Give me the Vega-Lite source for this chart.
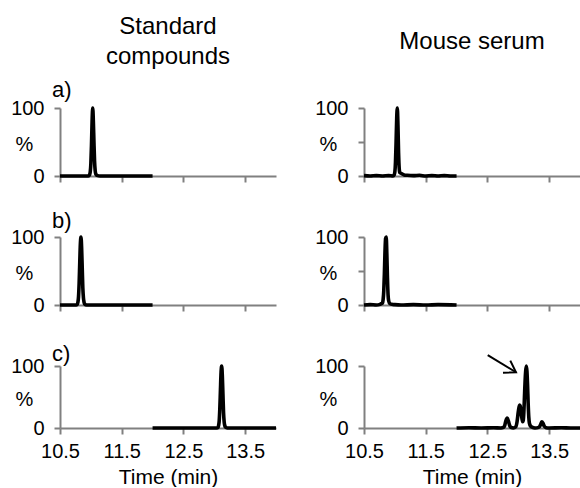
{
  "$schema": "https://vega.github.io/schema/vega-lite/v6.json",
  "padding": {"left": 10, "top": 15, "right": 0, "bottom": 0},
  "background": "white",
  "columns": 2,
  "spacing": {"row": 61, "column": 88},
  "bounds": "flush",
  "align": "each",
  "config": {
    "font": "Liberation Sans",
    "view": {"stroke": null},
    "axis": {"grid": false, "domainColor": "#808080", "domainWidth": 2, "tickColor": "#808080", "tickWidth": 2, "tickSize": 6, "labelFont": "Liberation Sans", "labelFontSize": 20, "labelColor": "#000", "labelFlush": false, "titleFont": "Liberation Sans", "titleFontWeight": "normal", "titleColor": "#000"},
    "axisX": {"labelPadding": 7, "titleFontSize": 21, "titlePadding": 5},
    "axisY": {"labelPadding": 10, "titleFontSize": 20},
    "title": {"font": "Liberation Sans", "fontSize": 24, "fontWeight": "normal", "color": "#000", "lineHeight": 30, "baseline": "bottom"}
  },
  "datasets": {
    "trace": [
      {"row": "a", "col": "std", "t": 10.5, "pct": 0},
      {"row": "a", "col": "std", "t": 10.9, "pct": 0},
      {"row": "a", "col": "std", "t": 10.96, "pct": 0},
      {"row": "a", "col": "std", "t": 10.98, "pct": 2},
      {"row": "a", "col": "std", "t": 10.99, "pct": 6},
      {"row": "a", "col": "std", "t": 11.0, "pct": 18},
      {"row": "a", "col": "std", "t": 11.01, "pct": 45},
      {"row": "a", "col": "std", "t": 11.02, "pct": 80},
      {"row": "a", "col": "std", "t": 11.03, "pct": 100},
      {"row": "a", "col": "std", "t": 11.04, "pct": 82},
      {"row": "a", "col": "std", "t": 11.05, "pct": 50},
      {"row": "a", "col": "std", "t": 11.06, "pct": 22},
      {"row": "a", "col": "std", "t": 11.07, "pct": 8},
      {"row": "a", "col": "std", "t": 11.08, "pct": 3},
      {"row": "a", "col": "std", "t": 11.1, "pct": 1},
      {"row": "a", "col": "std", "t": 11.15, "pct": 0},
      {"row": "a", "col": "std", "t": 12.0, "pct": 0},

      {"row": "a", "col": "serum", "t": 10.5, "pct": 0.5},
      {"row": "a", "col": "serum", "t": 10.6, "pct": 0},
      {"row": "a", "col": "serum", "t": 10.7, "pct": 0.5},
      {"row": "a", "col": "serum", "t": 10.8, "pct": 0},
      {"row": "a", "col": "serum", "t": 10.9, "pct": 0.5},
      {"row": "a", "col": "serum", "t": 10.97, "pct": 0},
      {"row": "a", "col": "serum", "t": 10.99, "pct": 2},
      {"row": "a", "col": "serum", "t": 11.0, "pct": 6},
      {"row": "a", "col": "serum", "t": 11.01, "pct": 20},
      {"row": "a", "col": "serum", "t": 11.02, "pct": 50},
      {"row": "a", "col": "serum", "t": 11.03, "pct": 85},
      {"row": "a", "col": "serum", "t": 11.04, "pct": 100},
      {"row": "a", "col": "serum", "t": 11.05, "pct": 75},
      {"row": "a", "col": "serum", "t": 11.06, "pct": 35},
      {"row": "a", "col": "serum", "t": 11.07, "pct": 12},
      {"row": "a", "col": "serum", "t": 11.08, "pct": 5},
      {"row": "a", "col": "serum", "t": 11.1, "pct": 4},
      {"row": "a", "col": "serum", "t": 11.12, "pct": 3},
      {"row": "a", "col": "serum", "t": 11.15, "pct": 1.5},
      {"row": "a", "col": "serum", "t": 11.2, "pct": 1},
      {"row": "a", "col": "serum", "t": 11.3, "pct": 0.5},
      {"row": "a", "col": "serum", "t": 11.4, "pct": 1},
      {"row": "a", "col": "serum", "t": 11.5, "pct": 0},
      {"row": "a", "col": "serum", "t": 11.6, "pct": 0.5},
      {"row": "a", "col": "serum", "t": 11.7, "pct": 0},
      {"row": "a", "col": "serum", "t": 11.8, "pct": 0.5},
      {"row": "a", "col": "serum", "t": 11.9, "pct": 0},
      {"row": "a", "col": "serum", "t": 12.0, "pct": 0},

      {"row": "b", "col": "std", "t": 10.5, "pct": 0},
      {"row": "b", "col": "std", "t": 10.76, "pct": 0},
      {"row": "b", "col": "std", "t": 10.78, "pct": 1},
      {"row": "b", "col": "std", "t": 10.79, "pct": 4},
      {"row": "b", "col": "std", "t": 10.8, "pct": 12},
      {"row": "b", "col": "std", "t": 10.81, "pct": 32},
      {"row": "b", "col": "std", "t": 10.82, "pct": 62},
      {"row": "b", "col": "std", "t": 10.83, "pct": 90},
      {"row": "b", "col": "std", "t": 10.84, "pct": 100},
      {"row": "b", "col": "std", "t": 10.85, "pct": 85},
      {"row": "b", "col": "std", "t": 10.86, "pct": 55},
      {"row": "b", "col": "std", "t": 10.87, "pct": 25},
      {"row": "b", "col": "std", "t": 10.88, "pct": 10},
      {"row": "b", "col": "std", "t": 10.89, "pct": 4},
      {"row": "b", "col": "std", "t": 10.9, "pct": 1.5},
      {"row": "b", "col": "std", "t": 10.93, "pct": 0},
      {"row": "b", "col": "std", "t": 12.0, "pct": 0},

      {"row": "b", "col": "serum", "t": 10.5, "pct": 0},
      {"row": "b", "col": "serum", "t": 10.6, "pct": 0.5},
      {"row": "b", "col": "serum", "t": 10.7, "pct": 0},
      {"row": "b", "col": "serum", "t": 10.76, "pct": 1},
      {"row": "b", "col": "serum", "t": 10.78, "pct": 2},
      {"row": "b", "col": "serum", "t": 10.8, "pct": 3},
      {"row": "b", "col": "serum", "t": 10.81, "pct": 8},
      {"row": "b", "col": "serum", "t": 10.82, "pct": 20},
      {"row": "b", "col": "serum", "t": 10.83, "pct": 45},
      {"row": "b", "col": "serum", "t": 10.84, "pct": 78},
      {"row": "b", "col": "serum", "t": 10.85, "pct": 98},
      {"row": "b", "col": "serum", "t": 10.86, "pct": 100},
      {"row": "b", "col": "serum", "t": 10.87, "pct": 75},
      {"row": "b", "col": "serum", "t": 10.88, "pct": 40},
      {"row": "b", "col": "serum", "t": 10.89, "pct": 15},
      {"row": "b", "col": "serum", "t": 10.9, "pct": 6},
      {"row": "b", "col": "serum", "t": 10.92, "pct": 2},
      {"row": "b", "col": "serum", "t": 10.95, "pct": 1},
      {"row": "b", "col": "serum", "t": 11.0, "pct": 0.5},
      {"row": "b", "col": "serum", "t": 11.1, "pct": 0},
      {"row": "b", "col": "serum", "t": 11.3, "pct": 0.5},
      {"row": "b", "col": "serum", "t": 11.5, "pct": 0},
      {"row": "b", "col": "serum", "t": 11.7, "pct": 0.5},
      {"row": "b", "col": "serum", "t": 12.0, "pct": 0},

      {"row": "c", "col": "std", "t": 12.0, "pct": 0},
      {"row": "c", "col": "std", "t": 13.04, "pct": 0},
      {"row": "c", "col": "std", "t": 13.06, "pct": 1},
      {"row": "c", "col": "std", "t": 13.07, "pct": 4},
      {"row": "c", "col": "std", "t": 13.08, "pct": 12},
      {"row": "c", "col": "std", "t": 13.09, "pct": 32},
      {"row": "c", "col": "std", "t": 13.1, "pct": 62},
      {"row": "c", "col": "std", "t": 13.11, "pct": 90},
      {"row": "c", "col": "std", "t": 13.12, "pct": 100},
      {"row": "c", "col": "std", "t": 13.13, "pct": 85},
      {"row": "c", "col": "std", "t": 13.14, "pct": 55},
      {"row": "c", "col": "std", "t": 13.15, "pct": 25},
      {"row": "c", "col": "std", "t": 13.16, "pct": 10},
      {"row": "c", "col": "std", "t": 13.17, "pct": 4},
      {"row": "c", "col": "std", "t": 13.18, "pct": 1.5},
      {"row": "c", "col": "std", "t": 13.21, "pct": 0},
      {"row": "c", "col": "std", "t": 14.0, "pct": 0},

      {"row": "c", "col": "serum", "t": 12.0, "pct": 0},
      {"row": "c", "col": "serum", "t": 12.2, "pct": 0.5},
      {"row": "c", "col": "serum", "t": 12.4, "pct": 0},
      {"row": "c", "col": "serum", "t": 12.6, "pct": 0.5},
      {"row": "c", "col": "serum", "t": 12.72, "pct": 0},
      {"row": "c", "col": "serum", "t": 12.76, "pct": 1},
      {"row": "c", "col": "serum", "t": 12.78, "pct": 4},
      {"row": "c", "col": "serum", "t": 12.8, "pct": 12},
      {"row": "c", "col": "serum", "t": 12.82, "pct": 16},
      {"row": "c", "col": "serum", "t": 12.84, "pct": 11},
      {"row": "c", "col": "serum", "t": 12.86, "pct": 4},
      {"row": "c", "col": "serum", "t": 12.88, "pct": 1},
      {"row": "c", "col": "serum", "t": 12.92, "pct": 0},
      {"row": "c", "col": "serum", "t": 12.96, "pct": 2},
      {"row": "c", "col": "serum", "t": 12.98, "pct": 10},
      {"row": "c", "col": "serum", "t": 13.0, "pct": 26},
      {"row": "c", "col": "serum", "t": 13.02, "pct": 37},
      {"row": "c", "col": "serum", "t": 13.03, "pct": 36},
      {"row": "c", "col": "serum", "t": 13.05, "pct": 22},
      {"row": "c", "col": "serum", "t": 13.07, "pct": 10},
      {"row": "c", "col": "serum", "t": 13.08, "pct": 12},
      {"row": "c", "col": "serum", "t": 13.09, "pct": 25},
      {"row": "c", "col": "serum", "t": 13.1, "pct": 50},
      {"row": "c", "col": "serum", "t": 13.11, "pct": 75},
      {"row": "c", "col": "serum", "t": 13.12, "pct": 92},
      {"row": "c", "col": "serum", "t": 13.13, "pct": 100},
      {"row": "c", "col": "serum", "t": 13.14, "pct": 92},
      {"row": "c", "col": "serum", "t": 13.15, "pct": 70},
      {"row": "c", "col": "serum", "t": 13.16, "pct": 40},
      {"row": "c", "col": "serum", "t": 13.17, "pct": 18},
      {"row": "c", "col": "serum", "t": 13.18, "pct": 8},
      {"row": "c", "col": "serum", "t": 13.2, "pct": 3},
      {"row": "c", "col": "serum", "t": 13.23, "pct": 1},
      {"row": "c", "col": "serum", "t": 13.27, "pct": 0},
      {"row": "c", "col": "serum", "t": 13.33, "pct": 1},
      {"row": "c", "col": "serum", "t": 13.36, "pct": 5},
      {"row": "c", "col": "serum", "t": 13.38, "pct": 10},
      {"row": "c", "col": "serum", "t": 13.4, "pct": 8},
      {"row": "c", "col": "serum", "t": 13.42, "pct": 3},
      {"row": "c", "col": "serum", "t": 13.45, "pct": 0.5},
      {"row": "c", "col": "serum", "t": 13.5, "pct": 0},
      {"row": "c", "col": "serum", "t": 13.7, "pct": 0.5},
      {"row": "c", "col": "serum", "t": 13.85, "pct": 0},
      {"row": "c", "col": "serum", "t": 14.0, "pct": 0}
    ],
    "arrow": [
      {"t": 12.505, "pct": 117.7, "t2": 12.963, "pct2": 89.9}
    ]
  },
  "concat": [
    {
      "width": 216, "height": 68,
      "title": {"text": ["Standard", "compounds"], "offset": 10},
      "layer": [
        {
          "data": {"name": "trace"},
          "transform": [{"filter": "datum.row == 'a' && datum.col == 'std'"}],
          "mark": {"type": "line", "color": "#000", "strokeWidth": 3.6, "interpolate": "monotone"},
          "encoding": {
            "x": {"field": "t", "type": "quantitative", "scale": {"domain": [10.5, 14]}, "axis": {"values": [10.5, 11.5, 12.5, 13.5], "labels": false, "title": null}},
            "y": {"field": "pct", "type": "quantitative", "scale": {"domain": [0, 100]}, "axis": {"values": [0, 50, 100], "labelExpr": "datum.value == 50 ? '' : datum.label", "title": "%", "titleAngle": 0, "titleAlign": "center", "titleBaseline": "middle", "titleX": -36, "titleY": 36}}
          }
        },
        {
          "data": {"values": [{"label": "a)"}]},
          "mark": {"type": "text", "align": "left", "baseline": "alphabetic", "dx": -8, "dy": -11, "fontSize": 22, "color": "#000"},
          "encoding": {"x": {"datum": 10.5}, "y": {"datum": 100}, "text": {"field": "label"}}
        }
      ]
    },
    {
      "width": 216, "height": 68,
      "title": {"text": "Mouse serum", "offset": 44},
      "layer": [
        {
          "data": {"name": "trace"},
          "transform": [{"filter": "datum.row == 'a' && datum.col == 'serum'"}],
          "mark": {"type": "line", "color": "#000", "strokeWidth": 3.6, "interpolate": "monotone"},
          "encoding": {
            "x": {"field": "t", "type": "quantitative", "scale": {"domain": [10.5, 14]}, "axis": {"values": [10.5, 11.5, 12.5, 13.5], "labels": false, "title": null}},
            "y": {"field": "pct", "type": "quantitative", "scale": {"domain": [0, 100]}, "axis": {"values": [0, 50, 100], "labelExpr": "datum.value == 50 ? '' : datum.label", "title": "%", "titleAngle": 0, "titleAlign": "center", "titleBaseline": "middle", "titleX": -36, "titleY": 36}}
          }
        }
      ]
    },
    {
      "width": 216, "height": 68,
      "layer": [
        {
          "data": {"name": "trace"},
          "transform": [{"filter": "datum.row == 'b' && datum.col == 'std'"}],
          "mark": {"type": "line", "color": "#000", "strokeWidth": 3.6, "interpolate": "monotone"},
          "encoding": {
            "x": {"field": "t", "type": "quantitative", "scale": {"domain": [10.5, 14]}, "axis": {"values": [10.5, 11.5, 12.5, 13.5], "labels": false, "title": null}},
            "y": {"field": "pct", "type": "quantitative", "scale": {"domain": [0, 100]}, "axis": {"values": [0, 50, 100], "labelExpr": "datum.value == 50 ? '' : datum.label", "title": "%", "titleAngle": 0, "titleAlign": "center", "titleBaseline": "middle", "titleX": -36, "titleY": 36}}
          }
        },
        {
          "data": {"values": [{"label": "b)"}]},
          "mark": {"type": "text", "align": "left", "baseline": "alphabetic", "dx": -8, "dy": -9, "fontSize": 22, "color": "#000"},
          "encoding": {"x": {"datum": 10.5}, "y": {"datum": 100}, "text": {"field": "label"}}
        }
      ]
    },
    {
      "width": 216, "height": 68,
      "layer": [
        {
          "data": {"name": "trace"},
          "transform": [{"filter": "datum.row == 'b' && datum.col == 'serum'"}],
          "mark": {"type": "line", "color": "#000", "strokeWidth": 3.6, "interpolate": "monotone"},
          "encoding": {
            "x": {"field": "t", "type": "quantitative", "scale": {"domain": [10.5, 14]}, "axis": {"values": [10.5, 11.5, 12.5, 13.5], "labels": false, "title": null}},
            "y": {"field": "pct", "type": "quantitative", "scale": {"domain": [0, 100]}, "axis": {"values": [0, 50, 100], "labelExpr": "datum.value == 50 ? '' : datum.label", "title": "%", "titleAngle": 0, "titleAlign": "center", "titleBaseline": "middle", "titleX": -36, "titleY": 36}}
          }
        }
      ]
    },
    {
      "width": 216, "height": 62,
      "layer": [
        {
          "data": {"name": "trace"},
          "transform": [{"filter": "datum.row == 'c' && datum.col == 'std'"}],
          "mark": {"type": "line", "color": "#000", "strokeWidth": 3.6, "interpolate": "monotone"},
          "encoding": {
            "x": {"field": "t", "type": "quantitative", "scale": {"domain": [10.5, 14]}, "axis": {"values": [10.5, 11.5, 12.5, 13.5], "format": ".1f", "title": "Time (min)"}},
            "y": {"field": "pct", "type": "quantitative", "scale": {"domain": [0, 100]}, "axis": {"values": [0, 50, 100], "labelExpr": "datum.value == 50 ? '' : datum.label", "title": "%", "titleAngle": 0, "titleAlign": "center", "titleBaseline": "middle", "titleX": -36, "titleY": 33}}
          }
        },
        {
          "data": {"values": [{"label": "c)"}]},
          "mark": {"type": "text", "align": "left", "baseline": "alphabetic", "dx": -8, "dy": -5, "fontSize": 22, "color": "#000"},
          "encoding": {"x": {"datum": 10.5}, "y": {"datum": 100}, "text": {"field": "label"}}
        }
      ]
    },
    {
      "width": 216, "height": 62,
      "layer": [
        {
          "data": {"name": "trace"},
          "transform": [{"filter": "datum.row == 'c' && datum.col == 'serum'"}],
          "mark": {"type": "line", "color": "#000", "strokeWidth": 3.6, "interpolate": "monotone"},
          "encoding": {
            "x": {"field": "t", "type": "quantitative", "scale": {"domain": [10.5, 14]}, "axis": {"values": [10.5, 11.5, 12.5, 13.5], "format": ".1f", "title": "Time (min)"}},
            "y": {"field": "pct", "type": "quantitative", "scale": {"domain": [0, 100]}, "axis": {"values": [0, 50, 100], "labelExpr": "datum.value == 50 ? '' : datum.label", "title": "%", "titleAngle": 0, "titleAlign": "center", "titleBaseline": "middle", "titleX": -36, "titleY": 33}}
          }
        },
        {
          "data": {"name": "arrow"},
          "mark": {"type": "rule", "color": "#000", "strokeWidth": 2},
          "encoding": {"x": {"field": "t", "type": "quantitative"}, "y": {"field": "pct", "type": "quantitative"}, "x2": {"field": "t2"}, "y2": {"field": "pct2"}}
        },
        {
          "data": {"name": "arrow"},
          "mark": {"type": "point", "shape": "M-0.84,-0.545L0,0L-0.84,0.545", "filled": false, "color": "#000", "strokeWidth": 2, "size": 676, "angle": 31, "opacity": 1},
          "encoding": {"x": {"field": "t2", "type": "quantitative"}, "y": {"field": "pct2", "type": "quantitative"}}
        }
      ]
    }
  ]
}
